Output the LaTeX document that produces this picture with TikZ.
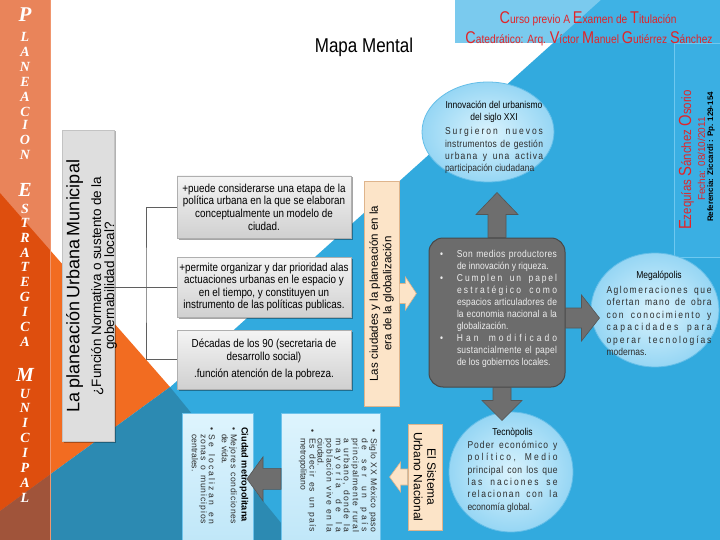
\documentclass[tikz,border=0pt]{standalone}
\usepackage{fontspec}
\setmainfont{Liberation Sans}
\newfontfamily\cond[FakeStretch=0.85]{Liberation Sans}
\newfontfamily\scrf{Liberation Serif}
\usetikzlibrary{calc,shapes.geometric,shadows}

\definecolor{bgblue}{RGB}{50,170,222}
\definecolor{darkteal}{RGB}{44,138,178}
\definecolor{orng}{RGB}{242,108,33}
\definecolor{colLight}{RGB}{233,132,90}
\definecolor{colMid}{RGB}{222,78,14}
\definecolor{colDark}{RGB}{160,84,58}
\definecolor{colEdge}{RGB}{240,150,110}
\definecolor{hdrLight}{RGB}{122,202,238}
\definecolor{hdrDark}{RGB}{62,178,229}
\definecolor{sideBox}{RGB}{58,175,227}
\definecolor{sideEdge}{RGB}{110,200,240}
\definecolor{titred}{RGB}{226,36,40}
\definecolor{graybox}{RGB}{108,108,108}
\definecolor{grayedge}{RGB}{72,72,72}
\definecolor{ctextcol}{RGB}{238,238,238}
\definecolor{peach}{RGB}{252,228,200}
\definecolor{peachedge}{RGB}{222,180,140}
\definecolor{ellin}{RGB}{218,243,253}
\definecolor{ellout}{RGB}{150,214,244}
\definecolor{elledge}{RGB}{100,190,232}
\definecolor{lbtop}{RGB}{222,244,253}
\definecolor{lbbot}{RGB}{190,230,248}
\definecolor{lbedge}{RGB}{110,195,235}
\definecolor{boxtop}{RGB}{244,244,244}
\definecolor{boxbot}{RGB}{208,208,208}
\definecolor{boxedge}{RGB}{175,175,175}
\definecolor{lnfill}{RGB}{222,222,222}
\definecolor{lnedge}{RGB}{195,195,195}
\definecolor{garrowfill}{RGB}{110,110,110}
\definecolor{garrowedge}{RGB}{85,85,85}
\definecolor{treecol}{RGB}{95,95,95}
\definecolor{bodygray}{RGB}{45,45,45}

% letter-spread justification (distributed lines)
\ExplSyntaxOn
\bool_new:N \l_rs_first_bool
\bool_new:N \l_rs_wfirst_bool
\seq_new:N \l_rs_words_seq
\cs_new_protected:Npn \rs_word:n #1
  {
    \bool_set_true:N \l_rs_first_bool
    \tl_map_inline:nn {#1}
      {
        \bool_if:NF \l_rs_first_bool { \skip_horizontal:n { 0pt plus 1fil } }
        \bool_set_false:N \l_rs_first_bool
        ##1
      }
  }
\NewDocumentCommand \spreadw { m m }
  {
    \hbox_to_wd:nn {#1}
      {
        \seq_set_split:Nnn \l_rs_words_seq { ~ } {#2}
        \bool_set_true:N \l_rs_wfirst_bool
        \seq_map_inline:Nn \l_rs_words_seq
          {
            \bool_if:NF \l_rs_wfirst_bool { \skip_horizontal:n { 0.28em plus 2.5fil } }
            \bool_set_false:N \l_rs_wfirst_bool
            \rs_word:n {##1}
          }
      }
  }
\ExplSyntaxOff
\newcommand\bline[2]{\par\noindent\makebox[#1][l]{\textbullet}\spreadw{\linewidth-#1}{#2}}
\newcommand\sline[2]{\par\noindent\hspace*{#1}\spreadw{\linewidth-#1}{#2}}
\newcommand\pline[2]{\par\noindent\hspace*{#1}#2}

\newcommand\bigC[2]{{\fontsize{#1}{#1}\selectfont #2}}
\newcommand\blockarrow[7]{%
  \begin{scope}[shift={#2},rotate=#3]
    \filldraw[#1] (0,-#5) -- (#4-#7,-#5) -- (#4-#7,-#6) -- (#4,0) -- (#4-#7,#6) -- (#4-#7,#5) -- (0,#5) -- cycle;
  \end{scope}}

\tikzset{
  gbox/.style={rectangle, draw=boxedge, top color=boxtop, bottom color=boxbot,
    drop shadow={shadow xshift=1.5pt, shadow yshift=-1.5pt, opacity=0.35, fill=black},
    minimum width=174pt, inner sep=0pt, align=center,
    font=\cond\fontsize{11.6}{12.6}\selectfont},
  lnode/.style={rectangle, draw=lnedge, fill=lnfill,
    drop shadow={shadow xshift=1.5pt, shadow yshift=-1.5pt, opacity=0.3, fill=black},
    inner sep=0pt},
  pbox/.style={rectangle, draw=peachedge, fill=peach, line width=0.8pt, inner sep=0pt,
    align=center, font=\fontsize{11.5}{13.5}\selectfont},
  cbox/.style={rectangle, rounded corners=14pt, fill=graybox, draw=grayedge, line width=1pt,
    minimum width=136pt, minimum height=149pt},
  ell/.style={ellipse, draw=elledge, line width=0.8pt, inner color=ellin, outer color=ellout, inner sep=0pt},
  lbx/.style={rectangle, draw=lbedge, line width=0.8pt, top color=lbtop, bottom color=lbbot, inner sep=0pt},
  garrow/.style={fill=garrowfill, draw=garrowedge, line width=0.6pt},
  parrow/.style={fill=peach, draw=peachedge, line width=0.6pt},
  tree/.style={draw=treecol, line width=0.9pt},
  colletter/.style={text=white, inner sep=0pt},
  etext/.style={inner sep=0pt, text=bodygray},
  rtext/.style={inner sep=0pt, text=bodygray},
}
\newcommand\efont{\cond\fontsize{10}{12.4}\selectfont}
\newcommand\rfont{\fontsize{8.6}{8}\selectfont}

\begin{document}
\begin{tikzpicture}[x=1pt,y=-1pt]
\useasboundingbox (0,0) rectangle (720,540);
% ---------- background ----------
\fill[white] (0,0) rectangle (720,540);
\fill[bgblue] (601,0) -- (720,0) -- (720,540) -- (0,540) -- cycle;
\fill[orng] (0,193) -- (170,387) -- (0,511) -- cycle;
\fill[darkteal] (0,511) -- (170,387) -- (295,540) -- (0,540) -- cycle;
\begin{scope}
  \clip (0,0) rectangle (50,540);
  \fill[colLight] (0,0) rectangle (50,540);
  \fill[colMid] (0,193) -- (170,387) -- (0,511) -- cycle;
  \fill[colDark] (0,511) -- (170,387) -- (295,540) -- (0,540) -- cycle;
\end{scope}
\draw[colEdge, line width=1pt] (50,0) -- (50,540);
\begin{scope}
  \clip (455,0) rectangle (720,43);
  \fill[hdrLight] (455,0) rectangle (720,43);
  \fill[hdrDark] (601,0) -- (720,0) -- (720,540) -- (0,540) -- cycle;
\end{scope}
\filldraw[fill=sideBox, draw=sideEdge, line width=0.8pt] (674,43) rectangle (721,257);

% ---------- column letters ----------
\foreach \ch/\yy/\sz [count=\k] in {P/15/21, L/37/14, A/52/14, N/67/14, E/82/14, A/97/14, C/112/14, I/125/14, O/140/14, N/155/14,
  E/190/20, S/209/14, T/223/14, R/238/14, A/253/14, T/267/14, E/282/14, G/297/14, I/312/14, C/327/14, A/342/14,
  M/375/20, U/394/14, N/408/14, I/423/14, C/438/14, I/453/14, P/468/14, A/483/14, L/498/14}
  \node[colletter, font=\scrf\bfseries\itshape\fontsize{\sz}{\sz}\selectfont] (cl\k) at (25,\yy) {\ch};

% ---------- header texts ----------
\node[inner sep=0pt, text=titred, font=\cond\fontsize{12}{14}\selectfont] (H1) at (588,19)
  {\bigC{17}{C}urso previo A \bigC{17}{E}xamen de \bigC{17}{T}itulación};
\node[inner sep=0pt, text=titred, font=\cond\fontsize{12}{14}\selectfont] (H2) at (589,39)
  {\bigC{17}{C}atedrático: Arq. \bigC{17}{V}íctor \bigC{17}{M}anuel \bigC{17}{G}utiérrez \bigC{17}{S}ánchez};
\node[inner sep=0pt, font=\cond\fontsize{20}{22}\selectfont] (MM) at (364,47) {Mapa Mental};
\node[rotate=90, inner sep=0pt, text=titred, font=\cond\fontsize{13.5}{15}\selectfont] (EZ) at (686.5,160)
  {\bigC{17.5}{E}zequías \bigC{17.5}{S}ánchez \bigC{17.5}{O}sorio};
\node[rotate=90, inner sep=0pt, text=titred, font=\fontsize{10}{11}\selectfont] (FE) at (701.5,159) {Fecha: 08/10/2011};
\node[rotate=90, inner sep=0pt, font=\bfseries\fontsize{8}{9}\selectfont] (RF) at (711,157) {Referencia: Ziccardi : Pp. 129-154};

% ---------- left part ----------
\node[lnode, rotate=90, minimum width=311pt, minimum height=52pt] (L) at (88,285.5) {};
\node[rotate=90, inner sep=0pt, text width=300pt, align=center] (Lt) at (91.5,286)
  {{\fontsize{18}{20}\selectfont La planeación Urbana Municipal\par}\vspace{7pt}%
   {\fontsize{13.5}{13}\selectfont ¿Función Normativa o sustento de la\\ gobernabilidad local?\par}};

\node[gbox, minimum height=62pt] (b1) at (264,207)
  {+puede considerarse una etapa de la\\ política urbana en la que se elaboran\\ conceptualmente un modelo de\\ ciudad.};
\node[gbox, minimum height=60pt] (b2) at (264,287)
  {+permite organizar y dar prioridad alas\\ actuaciones urbanas en le espacio y\\ en el tiempo, y constituyen un\\ instrumento de las políticas publicas.};
\node[gbox, minimum height=59pt] (b3) at (264,359.5)
  {Décadas de los 90 (secretaria de\\ desarrollo social)\\[4pt] .función atención de la pobreza.};

\coordinate (tj) at (146,287);
\draw[tree] (L.south |- b2.west) -- (b2.west);
\draw[tree] (b1.west) -| (tj) |- (b3.west);

% ---------- centre ----------
\node[pbox, rotate=90, minimum width=225pt, minimum height=35pt] (LC) at (381.5,293.5)
  {Las ciudades y la planeación en la\\ era de la globalización};

\node[cbox] (C) at (497,312.5) {};
\node[inner sep=0pt, text=ctextcol] (Ct) at (498.5,309)
  {\parbox{117pt}{\cond\fontsize{10}{12}\selectfont
   \bline{17pt}{Son medios productores}
   \pline{17pt}{de innovación y riqueza.}
   \bline{17pt}{Cumplen un papel}
   \sline{17pt}{estratégico como}
   \sline{17pt}{espacios articuladores de}
   \sline{17pt}{la economia nacional a la}
   \pline{17pt}{globalización.}
   \bline{17pt}{Han modificado}
   \sline{17pt}{sustancialmente el papel}
   \pline{17pt}{de los gobiernos locales.}}};

\node[ell, minimum width=132pt, minimum height=100pt] (I) at (488,132) {};
\node[etext] (It) at (494,137.5)
  {\parbox{98pt}{\efont
   {\centering\color{black}Innovación del urbanismo\\ del siglo XXI\par}\vspace{1.5pt}%
   \sline{0pt}{Surgieron nuevos}
   \sline{0pt}{instrumentos de gestión}
   \sline{0pt}{urbana y una activa}
   \pline{0pt}{participación ciudadana}}};

\node[ell, minimum width=128pt, minimum height=114pt] (Mg) at (655,310) {};
\node[etext] (Mgt) at (659,313.5)
  {\parbox{105pt}{\efont
   {\centering\color{black}Megalópolis\par}\vspace{2.5pt}%
   \sline{0pt}{Aglomeraciones que}
   \sline{0pt}{ofertan mano de obra}
   \sline{0pt}{con conocimiento y}
   \sline{0pt}{capacidades para}
   \sline{0pt}{operar tecnologías}
   \pline{0pt}{modernas.}}};

\node[ell, minimum width=124pt, minimum height=120pt] (T) at (511,472) {};
\node[etext] (Tt) at (512.5,470.5)
  {\parbox{90pt}{\efont
   {\centering\color{black}Tecnòpolis\par}%
   \sline{0pt}{Poder económico y}
   \sline{0pt}{político, Medio}
   \sline{0pt}{principal con los que}
   \sline{0pt}{las naciones se}
   \sline{0pt}{relacionan con la}
   \pline{0pt}{economía global.}}};

% ---------- bottom ----------
\node[pbox, rotate=-90, minimum width=106pt, minimum height=34pt, font=\fontsize{12}{13.5}\selectfont] (ES) at (425,477)
  {El Sistema\\ Urbano Nacional};

\node[lbx, minimum width=99pt, minimum height=136pt, anchor=north west] (SB) at (281,413) {};
\node[rtext, rotate=-90, anchor=north west] (ST) at (377.5,429)
  {\parbox{103pt}{\rfont
   \bline{9pt}{Siglo XX México paso}
   \sline{9pt}{de ser un país}
   \sline{9pt}{principalmente rural}
   \sline{9pt}{a urbano, donde la}
   \sline{9pt}{mayoría de la}
   \sline{9pt}{población vive en la}
   \pline{9pt}{ciudad.}
   \bline{9pt}{Es decir es un país}
   \pline{9pt}{metropolitano}}};

\node[lbx, minimum width=71pt, minimum height=136pt, anchor=north west] (CB) at (182,413) {};
\node[rtext, rotate=-90, anchor=north west] (CT) at (248.5,427)
  {\parbox{97pt}{\rfont
   {\bfseries\color{black}\fontsize{9.2}{10}\selectfont Ciudad metropolitana\par}\vspace{1.5pt}%
   \bline{7pt}{Mejores condiciones}
   \pline{7pt}{de vida.}
   \par\vspace{5pt}%
   \bline{7pt}{Se localizan en}
   \sline{7pt}{zonas o municipios}
   \pline{7pt}{centrales.}}};

% ---------- block arrows ----------
\blockarrow{garrow}{(C.north)}{90}{45}{9}{21}{22}
\blockarrow{garrow}{($(C.east)+(0,5.5)$)}{0}{34}{10}{23}{18}
\blockarrow{garrow}{($(C.south)+(5,0)$)}{-90}{33}{9}{20}{20}
\blockarrow{garrow}{($(SB.west)+(0,-2.5)$)}{180}{34}{10.5}{22}{16}
\blockarrow{parrow}{(LC.south)}{0}{17}{10}{16.5}{11}
\blockarrow{parrow}{(ES.south)}{180}{18}{8}{15}{11}
\end{tikzpicture}
\end{document}
